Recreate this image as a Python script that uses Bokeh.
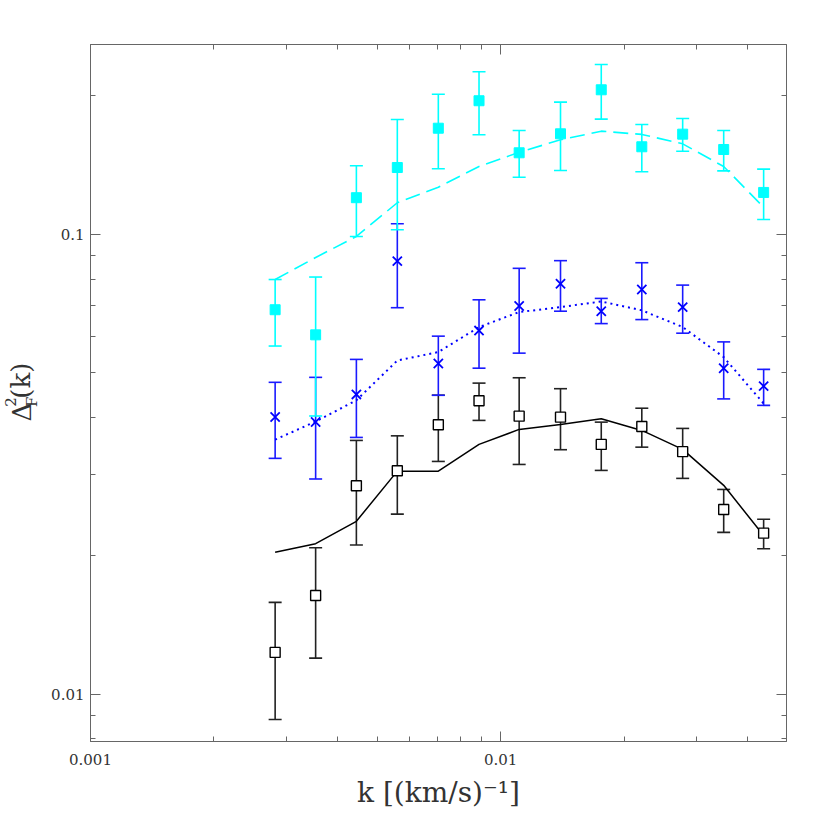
import math
from bokeh.plotting import figure
from bokeh.layouts import row
from bokeh.models import (ColumnDataSource, Whisker, TeeHead, LogAxis, FixedTicker,
                          CustomJSTickFormatter, Range1d)
from bokeh.core.properties import value
from bokeh.embed import file_html
from bokeh.resources import INLINE

# ---------------- data ----------------
k = [0.00282, 0.00354, 0.00445, 0.00560, 0.00705, 0.00886, 0.0111,
     0.0140, 0.0176, 0.0221, 0.0278, 0.0350, 0.0438]

cyan_y = [0.0686, 0.0605, 0.1202, 0.1398, 0.1702, 0.1953, 0.1505,
          0.1655, 0.2063, 0.1551, 0.1652, 0.1530, 0.1234]
cyan_hi = [0.0798, 0.0808, 0.1410, 0.1778, 0.2018, 0.2258, 0.1683,
           0.1939, 0.2342, 0.1734, 0.1787, 0.1683, 0.1387]
cyan_lo = [0.0572, 0.0403, 0.0990, 0.1024, 0.1389, 0.1647, 0.1332,
           0.1377, 0.1781, 0.1369, 0.1517, 0.1375, 0.1078]
cyan_model = [0.0798, 0.0891, 0.0990, 0.1172, 0.1267, 0.1405, 0.1509,
              0.1606, 0.1677, 0.1650, 0.1574, 0.1405, 0.1146]

blue_y = [0.0401, 0.0391, 0.0449, 0.0875, 0.0524, 0.0618, 0.0699,
          0.0781, 0.0681, 0.0759, 0.0695, 0.0512, 0.0468]
blue_hi = [0.0477, 0.0489, 0.0535, 0.1055, 0.0601, 0.0721, 0.0844,
           0.0877, 0.0726, 0.0868, 0.0776, 0.0584, 0.0509]
blue_lo = [0.0326, 0.0294, 0.0362, 0.0693, 0.0447, 0.0512, 0.0552,
           0.0681, 0.0640, 0.0653, 0.0610, 0.0439, 0.0425]
blue_model = [0.0358, 0.0392, 0.0436, 0.0532, 0.0555, 0.0629, 0.0678,
              0.0695, 0.0715, 0.0684, 0.0629, 0.0541, 0.0429]

black_y = [0.01234, 0.01641, 0.02842, 0.03064, 0.03857, 0.04350, 0.04027,
           0.04007, 0.03496, 0.03824, 0.03371, 0.02524, 0.02242]
black_hi = [0.01585, 0.02084, 0.03566, 0.03649, 0.04473, 0.04751, 0.04880,
            0.04620, 0.03908, 0.04190, 0.03787, 0.02790, 0.02404]
black_lo = [0.00882, 0.01199, 0.02112, 0.02466, 0.03210, 0.03942, 0.03162,
            0.03404, 0.03069, 0.03448, 0.02949, 0.02250, 0.02074]
black_model = [0.02038, 0.02127, 0.02379, 0.03058, 0.03058, 0.03496, 0.03768,
               0.03864, 0.03975, 0.03749, 0.03409, 0.02848, 0.02216]

x_major = [0.001, 0.01]
x_minor = [0.002, 0.003, 0.004, 0.005, 0.006, 0.007, 0.008, 0.009, 0.02, 0.03, 0.04]
y_major = [0.01, 0.1]
y_minor = [0.008, 0.009, 0.02, 0.03, 0.04, 0.05, 0.06, 0.07, 0.08, 0.09, 0.2]

X_MIN, X_MAX = 0.001, 0.0498
Y_MIN, Y_MAX = 0.0079, 0.2588
FW, FH = 696, 697
LAB_W = 46                 # width of the strip holding the y-axis title
BL, BT, BR, BB = 90 - LAB_W, 44, 28, 80
TOTAL_H = BT + FH + BB

SERIF = "DejaVu Serif"
AX_COL = "#666666"
TXT_COL = "#333333"

p = figure(x_axis_type="log", y_axis_type="log",
           x_range=Range1d(X_MIN, X_MAX), y_range=Range1d(Y_MIN, Y_MAX),
           frame_width=FW, frame_height=FH,
           min_border_left=BL, min_border_right=BR,
           min_border_top=BT, min_border_bottom=BB,
           output_backend="svg", toolbar_location=None)
p.grid.visible = False
p.outline_line_color = AX_COL
p.background_fill_color = "white"
p.border_fill_color = "white"

fmt_js = "return Number(tick.toPrecision(2)).toString();"


def style_axis(ax, major, minor, labels=True, standoff=10):
    ax.ticker = FixedTicker(ticks=major, minor_ticks=minor)
    if labels:
        ax.formatter = CustomJSTickFormatter(code=fmt_js)
    else:
        ax.formatter = CustomJSTickFormatter(code="return '';")
    ax.axis_line_color = AX_COL
    ax.major_tick_line_color = AX_COL
    ax.minor_tick_line_color = AX_COL
    ax.major_tick_in = 10
    ax.major_tick_out = 0
    ax.minor_tick_in = 5
    ax.minor_tick_out = 0
    ax.major_label_text_font = SERIF
    ax.major_label_text_font_size = "15px"
    ax.major_label_text_color = TXT_COL
    ax.major_label_standoff = standoff


xb = p.below[0]
yl = p.left[0]
style_axis(xb, x_major, x_minor, standoff=12)
style_axis(yl, y_major, y_minor, standoff=6)
xb.axis_label = "k [(km/s)\u207b\u00b9]"
xb.axis_label_text_font = SERIF
xb.axis_label_text_font_size = "28px"
xb.axis_label_text_font_style = "normal"
xb.axis_label_text_color = TXT_COL
xb.axis_label_standoff = 8

xt = LogAxis()
style_axis(xt, x_major, x_minor, labels=False, standoff=0)
p.add_layout(xt, "above")
yr = LogAxis()
style_axis(yr, y_major, y_minor, labels=False, standoff=0)
p.add_layout(yr, "right")

# ---------------- series ----------------
series = [
    ("black", black_y, black_hi, black_lo, black_model, "#000000", "#222222"),
    ("blue", blue_y, blue_hi, blue_lo, blue_model, "#0000FF", "#1a1aff"),
    ("cyan", cyan_y, cyan_hi, cyan_lo, cyan_model, "#00FFFF", "#00FFFF"),
]

for name, yv, hi, lo, model, col, bar_col in series:
    src = ColumnDataSource(dict(k=k, y=yv, hi=hi, lo=lo, m=model))
    w = Whisker(base="k", upper="hi", lower="lo", source=src, dimension="height",
                line_color=bar_col, line_width=1.6, level="underlay",
                upper_head=TeeHead(size=13, line_color=bar_col, line_width=1.6),
                lower_head=TeeHead(size=13, line_color=bar_col, line_width=1.6))
    p.add_layout(w)
    if name == "black":
        p.line("k", "m", source=src, line_color=col, line_width=1.5)
        p.scatter("k", "y", source=src, marker="square", size=10,
                  line_color=col, line_width=1.4, fill_color="white")
    elif name == "blue":
        p.line("k", "m", source=src, line_color=col, line_width=2.0, line_dash="2 4")
        p.scatter("k", "y", source=src, marker="x", size=13,
                  line_color=col, line_width=1.8)
    else:
        p.line("k", "m", source=src, line_color=col, line_width=1.6, line_dash="15 7")
        p.scatter("k", "y", source=src, marker="square", size=10,
                  line_color=col, fill_color=col)

# ---------------- y-axis title strip: Δ²_F(k), rotated ----------------
lab = figure(width=LAB_W, height=TOTAL_H, x_range=Range1d(0, LAB_W),
             y_range=Range1d(0, TOTAL_H), min_border=0,
             x_axis_location=None, y_axis_location=None,
             output_backend="svg", toolbar_location=None)
lab.grid.visible = False
lab.outline_line_color = None
lab.background_fill_color = "white"
lab.border_fill_color = "white"

# (text, centre x from left, centre y from top, font size)
pieces = [
    ("\u0394", 21, 433, "26px"),
    ("2", 10, 421, "15px"),
    ("F", 31, 421, "15px"),
    ("(k)", 20, 396, "26px"),
]
for txt, px, py, fs in pieces:
    lab.text(x=[px], y=[TOTAL_H - py], text=[txt], angle=math.pi / 2,
             text_font=value(SERIF), text_font_size=value(fs), text_color=TXT_COL,
             text_align="center", text_baseline="middle")

layout = row(lab, p)
open("out.html", "w").write(file_html(layout, INLINE))
